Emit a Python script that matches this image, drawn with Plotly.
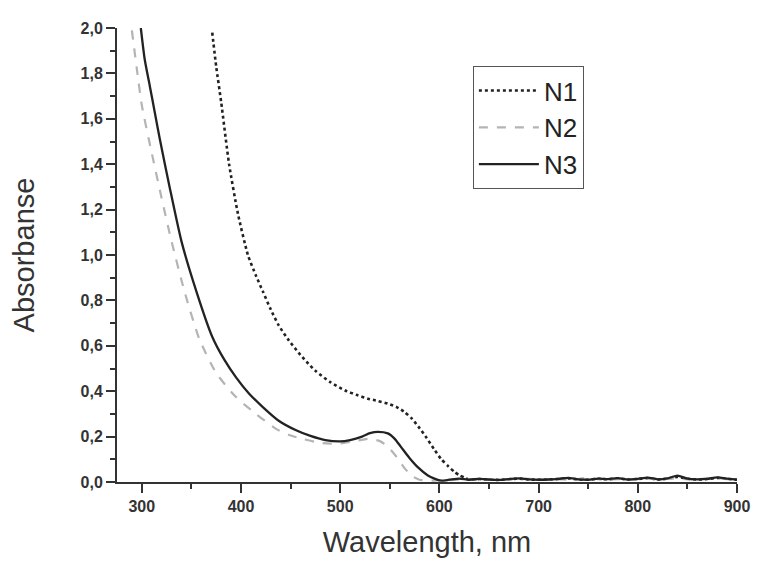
import plotly.graph_objects as go

# ---- data ----
n1_x = [371, 375, 380, 388, 397, 407, 415, 422, 430, 438, 448, 458, 466, 475, 490, 505, 517, 528, 538, 548, 557, 565, 572, 579, 587, 595, 602, 609, 615, 620, 626]
n1_y = [1.98, 1.83, 1.674, 1.40, 1.18, 1.0, 0.91, 0.84, 0.76, 0.69, 0.625, 0.57, 0.53, 0.49, 0.44, 0.403, 0.383, 0.367, 0.357, 0.345, 0.33, 0.308, 0.28, 0.243, 0.195, 0.142, 0.10, 0.069, 0.045, 0.03, 0.018]

n2_x = [290, 295, 300, 310, 320, 330, 343, 358, 375, 395, 415, 435, 448, 462, 482, 500, 515, 528, 540, 548, 557, 565, 573, 580, 590, 600]
n2_y = [1.99, 1.82, 1.66, 1.45, 1.25, 1.06, 0.84, 0.63, 0.48, 0.374, 0.30, 0.235, 0.208, 0.19, 0.171, 0.17, 0.18, 0.19, 0.18, 0.156, 0.11, 0.06, 0.025, 0.01, 0.006, 0.007]

n3_x = [299, 303, 308, 313, 318, 328, 340, 355, 371, 383, 395, 408, 422, 438, 455, 470, 485, 500, 510, 522, 530, 538, 548, 555, 561, 570, 579, 588, 595, 602]
n3_y = [2.0, 1.86, 1.746, 1.63, 1.514, 1.30, 1.06, 0.84, 0.64, 0.54, 0.461, 0.39, 0.330, 0.27, 0.229, 0.203, 0.185, 0.179, 0.185, 0.20, 0.215, 0.221, 0.214, 0.19, 0.156, 0.105, 0.062, 0.03, 0.015, 0.006]

tail_x = [610, 620, 630, 640, 650, 660, 670, 680, 690, 700, 710, 720, 730, 740, 750,
          760, 770, 780, 790, 800, 810, 820, 830, 840, 850, 860, 870, 880, 890, 900]
n1_tail_y = [0.012, 0.014, 0.010, 0.013, 0.011, 0.009, 0.012, 0.015, 0.011, 0.010, 0.012, 0.013, 0.016, 0.011,
             0.010, 0.014, 0.012, 0.016, 0.011, 0.013, 0.017, 0.011, 0.015, 0.022, 0.014, 0.011, 0.013, 0.018, 0.014, 0.010]
n2_tail_y = [0.008, 0.010, 0.012, 0.009, 0.011, 0.013, 0.010, 0.012, 0.014, 0.010, 0.011, 0.012, 0.010, 0.013,
             0.020, 0.012, 0.011, 0.013, 0.010, 0.012, 0.015, 0.012, 0.014, 0.016, 0.011, 0.013, 0.015, 0.017, 0.012, 0.011]
n3_tail_y = [0.010, 0.015, 0.010, 0.014, 0.011, 0.009, 0.013, 0.016, 0.012, 0.010, 0.011, 0.014, 0.018, 0.012,
             0.010, 0.015, 0.013, 0.017, 0.011, 0.014, 0.019, 0.012, 0.016, 0.028, 0.015, 0.012, 0.014, 0.020, 0.015, 0.010]

x_ticks = [300, 400, 500, 600, 700, 800, 900]
y_ticks = [0.0, 0.2, 0.4, 0.6, 0.8, 1.0, 1.2, 1.4, 1.6, 1.8, 2.0]

FONT = "Arial, Liberation Sans, sans-serif"
AX = "#333333"

fig = go.Figure()
fig.add_trace(go.Scatter(x=n1_x + tail_x[2:], y=n1_y + n1_tail_y[2:], mode="lines", name="N1",
                         legendgroup="a",
                         line=dict(color="#222222", width=2.6, dash="3px,3px", shape="spline", smoothing=0.6)))
fig.add_trace(go.Scatter(x=n2_x + tail_x, y=n2_y + n2_tail_y, mode="lines", name="N2",
                         legendgroup="b",
                         line=dict(color="#b4b4b4", width=2.2, dash="9px,9px", shape="spline", smoothing=0.6)))
fig.add_trace(go.Scatter(x=n3_x + tail_x, y=n3_y + n3_tail_y, mode="lines", name="N3",
                         legendgroup="c",
                         line=dict(color="#222222", width=2.3, shape="spline", smoothing=0.6)))

fig.update_layout(
    width=754, height=557,
    margin=dict(l=109, r=21, t=15, b=82.5),
    paper_bgcolor="white", plot_bgcolor="white",
    separators=",.",
    font=dict(family=FONT, color=AX),
    showlegend=True,
    legend=dict(x=0.574, y=0.916, xanchor="left", yanchor="top",
                bordercolor="#555555", borderwidth=1, bgcolor="white",
                font=dict(size=26, color="#222222"),
                tracegroupgap=0, itemwidth=60),
    xaxis=dict(range=[275, 900], tickvals=x_ticks, ticks="outside", ticklen=9, tickwidth=1.5,
               tickcolor=AX, showline=True, linecolor=AX, linewidth=2, showgrid=False, zeroline=False,
               tickfont=dict(size=16, weight="bold", color=AX),
               minor=dict(dtick=50, tick0=0, ticks="outside", ticklen=5, tickcolor=AX, showgrid=False),
               title=dict(text="Wavelength, nm", font=dict(size=29, color=AX), standoff=17)),
    yaxis=dict(range=[0, 2.0], tickvals=y_ticks, tickformat=".1f", ticks="outside", ticklen=9, tickwidth=1.5,
               tickcolor=AX, showline=True, linecolor=AX, linewidth=2, showgrid=False, zeroline=False,
               tickfont=dict(size=16, weight="bold", color=AX),
               minor=dict(dtick=0.1, tick0=0, ticks="outside", ticklen=5, tickcolor=AX, showgrid=False),
               title=dict(text="Absorbanse", font=dict(size=29, color=AX), standoff=37)),
)

fig.write_html("out.html")
